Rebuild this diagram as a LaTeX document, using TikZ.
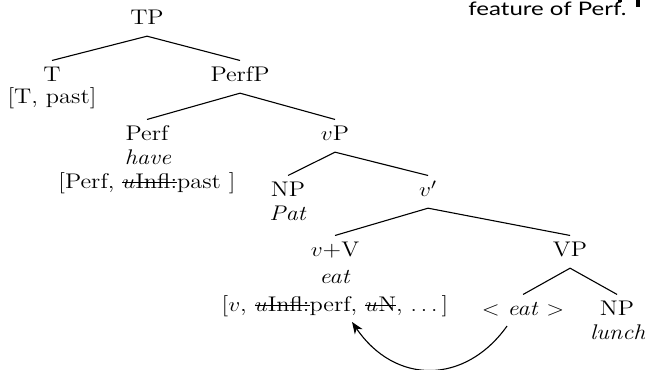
\documentclass[tikz,border=0pt]{standalone}
\usepackage{fontspec}
\newfontfamily\notefont{Lato}
\usepackage{graphicx}
\newsavebox\strkbox
\newcommand\strk[1]{\sbox\strkbox{#1}\rlap{\rule[0.62ex]{\wd\strkbox}{0.6pt}}\usebox\strkbox}
\usetikzlibrary{arrows.meta}
\begin{document}
\begin{tikzpicture}[xscale=1.15, x=0.51304pt, y=-0.59pt,
  every node/.style={transform shape, inner sep=0pt, anchor=base, font=\fontsize{12.5}{14.5}\selectfont},
  lab/.style={text height=8.5pt, text depth=2.4pt, inner ysep=4pt, inner xsep=0pt},
  branch/.style={line width=0.65pt},
  move/.style={line width=0.65pt, -{Stealth[length=7pt,width=5.5pt,inset=2.2pt]}}]
\useasboundingbox (0,0) rectangle (645,370);
% labels
\node[lab] (TP) at (147,25) {TP};
\node[lab] (T) at (52,82) {T};
\node (Tf) at (52,104) {[T, past]};
\node[lab] (PerfP) at (240,82) {PerfP};
\node[lab] (Perf) at (147,141) {Perf};
\node (have) at (148,165) {\textit{have}};
\node (Perff) at (147,189) {[Perf, \strk{$u$Infl:}past ]};
\node[lab] (vP) at (335,141) {$v$P};
\node[lab] (NP1) at (288,197) {NP};
\node (Pat) at (288,221) {\textit{Pat}};
\node[lab] (vbar) at (428,197) {$v'$};
\node[lab] (vV) at (335,257) {$v$+V};
\node (eat) at (335,284) {\textit{eat}};
\node (vf) at (335,312) {[$v$, \strk{$u$Infl:}perf, \strk{$u$N}, $\ldots$\,]};
\node[lab] (VP) at (570,257) {VP};
\node[lab] (teat) at (523,316) {$<$ \textit{eat} $>$};
\node[lab] (NP2) at (617,316) {NP};
\node (lunch) at (618,340) {\textit{lunch}};
% branches
\draw[branch] (T.north) -- (TP.south) -- (PerfP.north);
\draw[branch] (Perf.north) -- (PerfP.south) -- (vP.north);
\draw[branch] (NP1.north) -- (vP.south) -- (vbar.north);
\draw[branch] (vV.north) -- (vbar.south) -- (VP.north);
\draw[branch] (teat.north) -- (VP.south) -- (NP2.north);
% movement arrow
\coordinate (mvS) at (507,326);
\coordinate (mvE) at (352,322);
\draw[move] (mvS) .. controls (465,385) and (395,385) .. (mvE);
% cropped note at top right
\node[anchor=base west] (note) at (468,16) {\notefont\fontsize{11}{13}\selectfont\scalebox{1.12}[1]{feature of Perf.}};
\fill (618,0) rectangle (622,2.5);
\fill (636,0) rectangle (640,7);
\end{tikzpicture}
\end{document}
